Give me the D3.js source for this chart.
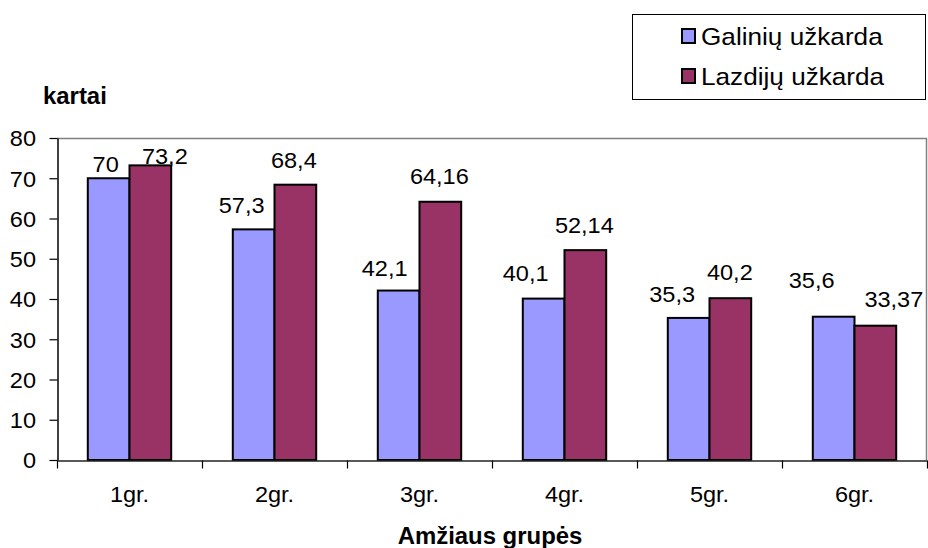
<!DOCTYPE html>
<html>
<head>
<meta charset="utf-8">
<script src="https://cdn.jsdelivr.net/npm/d3@7"></script>
<style>
  html, body { margin: 0; padding: 0; background: #fff; }
  svg { display: block; }
  text { font-family: "Liberation Sans", Arial, sans-serif; fill: #000; }
</style>
</head>
<body>
<script>
// ---- data ----
const categories = ["1gr.", "2gr.", "3gr.", "4gr.", "5gr.", "6gr."];
const seriesNames = ["Galinių užkarda", "Lazdijų užkarda"];
const galiniu = [70, 57.3, 42.1, 40.1, 35.3, 35.6];
const lazdiju = [73.2, 68.4, 64.16, 52.14, 40.2, 33.37];
const valueLabels = [
  ["70", "57,3", "42,1", "40,1", "35,3", "35,6"],
  ["73,2", "68,4", "64,16", "52,14", "40,2", "33,37"]
];
const yTicks = [0, 10, 20, 30, 40, 50, 60, 70, 80];
const yTitle = "kartai";
const xTitle = "Amžiaus grupės";

// ---- layout / style (kept separate from data) ----
const W = 928, H = 548;
const plot = { left: 57, right: 927, top: 138, bottom: 460 };
const colors = ["#9999FF", "#993366"];
const SX = 1.07;      // horizontal text stretch seen in reference
const SX_TITLE = 1.04;
const SX_LEG = 1.09;
// per-label nudges [dx, dy] from default spot (bar centre, 17px above bar top)
const labelNudge = [
  [[-3, 10.5], [-12, 1], [-14, 2], [-18, -0.5], [-16.5, 1], [-22, -12]],
  [[14.5, 15.5], [-1.5, 0], [-1, -1], [-1, 0], [-0.5, -1], [18.5, -2]]
];

const svg = d3.select("body").append("svg").attr("width", W).attr("height", H);

const x = d3.scaleBand().domain(categories).range([plot.left, plot.right]).padding(0);
const x1 = d3.scaleBand().domain(seriesNames).range([0, x.bandwidth()])
  .paddingInner(0).paddingOuter(0.7385);
const y = d3.scaleLinear().domain([0, 80]).range([plot.bottom, plot.top]);

const seriesVals = [galiniu, lazdiju];

function stretchedText(g, tx, ty, str, anchor, sx) {
  return g.append("text")
    .attr("transform", `translate(${tx},${ty}) scale(${sx || SX},1)`)
    .attr("text-anchor", anchor || "middle")
    .text(str);
}

// plot frame (top/right gray)
svg.append("path")
  .attr("d", `M${plot.left},${plot.top + 0.5}H${plot.right - 0.5}V${plot.bottom}`)
  .attr("fill", "none").attr("stroke", "#808080").attr("stroke-width", 1.5);

// bars
const groups = svg.append("g").selectAll("g")
  .data(seriesNames).join("g")
  .attr("fill", (d, i) => colors[i]);

groups.each(function(sName, si) {
  d3.select(this).selectAll("rect")
    .data(seriesVals[si]).join("rect")
    .attr("x", (d, i) => x(categories[i]) + x1(sName))
    .attr("y", d => y(d))
    .attr("width", x1.bandwidth())
    .attr("height", d => y(0) - y(d))
    .attr("stroke", "#000")
    .attr("stroke-width", 2);
});

// value labels
const lbl = svg.append("g").attr("font-size", 22);
seriesNames.forEach((sName, si) => {
  seriesVals[si].forEach((v, i) => {
    const cx = x(categories[i]) + x1(sName) + x1.bandwidth() / 2;
    const by = y(v) - 17;
    const [dx, dy] = labelNudge[si][i];
    stretchedText(lbl, cx + dx, by + dy, valueLabels[si][i]);
  });
});

// y axis
const yAxis = svg.append("g")
  .attr("transform", `translate(${plot.left + 0.5},0)`)
  .call(d3.axisLeft(y).tickValues(yTicks).tickSize(8).tickSizeOuter(0).tickFormat(d3.format("d")));
yAxis.select(".domain").attr("stroke", "#000").attr("stroke-width", 1.5);
yAxis.selectAll(".tick line").attr("stroke", "#000").attr("stroke-width", 1.2);
yAxis.selectAll(".tick text")
  .attr("font-size", 22)
  .attr("font-family", "Liberation Sans, Arial, sans-serif")
  .attr("fill", "#000")
  .attr("x", -21.5 / SX)
  .attr("dy", "0.36em")
  .attr("transform", `scale(${SX},1)`);

// x axis
const xAxis = svg.append("g")
  .attr("transform", `translate(0,${plot.bottom + 0.5})`)
  .call(d3.axisBottom(x).tickSize(0).tickSizeOuter(0));
xAxis.select(".domain").attr("stroke", "#222").attr("stroke-width", 1.5);
xAxis.selectAll(".tick text").remove();
// category boundary ticks
const bounds = categories.map(c => x(c)).concat([x.range()[1]]);
xAxis.selectAll(".btick").data(bounds).join("line")
  .attr("x1", d => Math.round(d) + 0.5).attr("x2", d => Math.round(d) + 0.5)
  .attr("y1", 0).attr("y2", 8)
  .attr("stroke", "#000").attr("stroke-width", 1.2);
const xl = svg.append("g").attr("font-size", 22);
categories.forEach(c => {
  stretchedText(xl, x(c) + x.bandwidth() / 2, 502, c);
});

// axis titles
const titles = svg.append("g").attr("font-size", 23).attr("font-weight", "bold");
stretchedText(titles, 43, 104, yTitle, "start", SX_TITLE);
stretchedText(titles, (plot.left + plot.right) / 2 - 2, 544, xTitle, "middle", SX_TITLE);

// legend
const leg = svg.append("g");
leg.append("rect")
  .attr("x", 632.5).attr("y", 14.5).attr("width", 293).attr("height", 85)
  .attr("fill", "#fff").attr("stroke", "#000").attr("stroke-width", 1);
seriesNames.forEach((s, i) => {
  const yy = 29 + i * 40;
  leg.append("rect")
    .attr("x", 682).attr("y", yy).attr("width", 13).attr("height", 14)
    .attr("fill", colors[i]).attr("stroke", "#000").attr("stroke-width", 2);
  const t = stretchedText(leg, 701, yy + 16, s, "start", SX_LEG);
  t.attr("font-size", 24);
});
</script>
</body>
</html>
